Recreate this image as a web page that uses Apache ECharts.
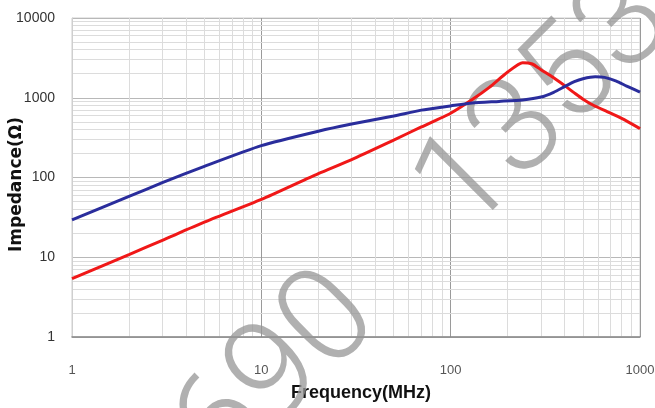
<!DOCTYPE html>
<html>
<head>
<meta charset="utf-8">
<script src="https://cdn.jsdelivr.net/npm/echarts@6/dist/echarts.min.js"></script>
<style>html,body{margin:0;padding:0;background:#fff}#c{width:655px;height:408px}</style>
</head>
<body>
<div id="c"></div>
<script>
// Data
const redFreq = [1, 2, 3, 5, 10, 20, 30, 50, 70, 100, 130, 160, 200, 240, 270, 300, 350, 400, 450, 500, 570, 670, 800, 1000];
const redImpedance = [5.4, 10.8, 16.3, 27.5, 53, 112, 168, 295, 430, 640, 950, 1350, 2100, 2750, 2650, 2250, 1780, 1420, 1150, 960, 800, 670, 550, 410];
const blueFreq = [1, 2, 3, 5, 10, 20, 30, 50, 70, 100, 130, 180, 240, 300, 350, 400, 450, 500, 580, 650, 750, 850, 1000];
const blueImpedance = [29.5, 58, 86, 138, 251, 380, 468, 590, 700, 790, 860, 900, 940, 1020, 1170, 1380, 1590, 1730, 1830, 1800, 1620, 1400, 1180];
const xTickLabels = ['1', '10', '100', '1000'];
const yTickLabels = ['1', '10', '100', '1000', '10000'];
const xName = 'Frequency(MHz)';
const yName = 'Impedance(\u03A9)';
const watermarkParts = ['690', '1353'];

const chart = echarts.init(document.getElementById('c'), null, {renderer: 'canvas'});

function pairs(xs, ys) { return xs.map((x, i) => [x, ys[i]]); }
function decadeLabel(labels) {
  return function (v) {
    const i = Math.round(Math.log10(v));
    return labels[i] !== undefined ? labels[i] : '';
  };
}
// minor log grid positions (2..9 per decade) derived from the tick labels
function minorValues(labels) {
  const out = [];
  for (let i = 0; i < labels.length - 1; i++) {
    const d = Number(labels[i]);
    for (let m = 2; m <= 9; m++) out.push(d * m);
  }
  return out;
}
const minorLines = [].concat(
  minorValues(xTickLabels).map(v => ({xAxis: v})),
  minorValues(yTickLabels).map(v => ({yAxis: v}))
);

const sans = '"Liberation Sans", Arial, sans-serif';
const wmFont = '300 135px Roboto, "Noto Sans", sans-serif';

chart.setOption({
  animation: false,
  backgroundColor: '#ffffff',
  grid: {left: 72, right: 15, top: 18, bottom: 71, outerBoundsMode: 'none', containLabel: false,
         show: true, borderColor: '#cfcfcf', borderWidth: 1, backgroundColor: 'transparent'},
  xAxis: {
    type: 'log', logBase: 10, min: 1, max: 1000,
    name: xName, nameLocation: 'middle', nameGap: 47, nameMoveOverlap: false,
    nameTextStyle: {fontFamily: sans, fontWeight: 'bold', fontSize: 18, color: '#111', padding: [0, 0, 0, 10]},
    axisLine: {show: true, lineStyle: {color: '#888', width: 1.5}},
    axisTick: {show: false},
    axisLabel: {formatter: decadeLabel(xTickLabels), margin: 27, fontFamily: sans, fontSize: 13, color: '#555'},
    splitLine: {show: true, lineStyle: {color: '#9a9a9a', width: 1}}
  },
  yAxis: {
    type: 'log', logBase: 10, min: 1, max: 10000,
    name: yName, nameLocation: 'middle', nameGap: 47, nameRotate: 90, nameMoveOverlap: false,
    nameTextStyle: {fontFamily: '"DejaVu Sans", sans-serif', fontWeight: 'bold', fontSize: 17, color: '#111', padding: [0, 14, 0, 0]},
    axisLine: {show: true, lineStyle: {color: '#cfcfcf'}},
    axisTick: {show: false},
    axisLabel: {formatter: decadeLabel(yTickLabels), margin: 17, fontFamily: sans, fontSize: 14, color: '#333'},
    splitLine: {show: true, lineStyle: {color: '#b8b8b8', width: 1}}
  },
  graphic: [
    {type: 'text', x: 279, y: 377, rotation: Math.PI / 4, z: 1, silent: true,
     style: {text: watermarkParts[0], font: wmFont, fill: 'rgba(150,150,150,0.75)', align: 'center', verticalAlign: 'middle'}},
    {type: 'text', x: 548, y: 107, rotation: Math.PI / 4, z: 1, silent: true,
     style: {text: watermarkParts[1], font: wmFont, fill: 'rgba(150,150,150,0.75)', align: 'center', verticalAlign: 'middle'}}
  ],
  series: [
    {
      name: 'grid-minor', type: 'line', data: [[1, 1]], symbol: 'none', z: 0, silent: true,
      lineStyle: {opacity: 0},
      markLine: {silent: true, symbol: 'none', z: 0, label: {show: false},
        lineStyle: {color: '#dcdcdc', width: 1, type: 'solid'}, data: minorLines, animation: false}
    },
    {
      name: 'red', type: 'line', data: pairs(redFreq, redImpedance), smooth: 0.2, symbol: 'none', z: 3,
      lineStyle: {color: '#f01818', width: 3}
    },
    {
      name: 'blue', type: 'line', data: pairs(blueFreq, blueImpedance), smooth: 0.2, symbol: 'none', z: 3,
      lineStyle: {color: '#2a2d9c', width: 3}
    }
  ]
});
</script>
</body>
</html>
